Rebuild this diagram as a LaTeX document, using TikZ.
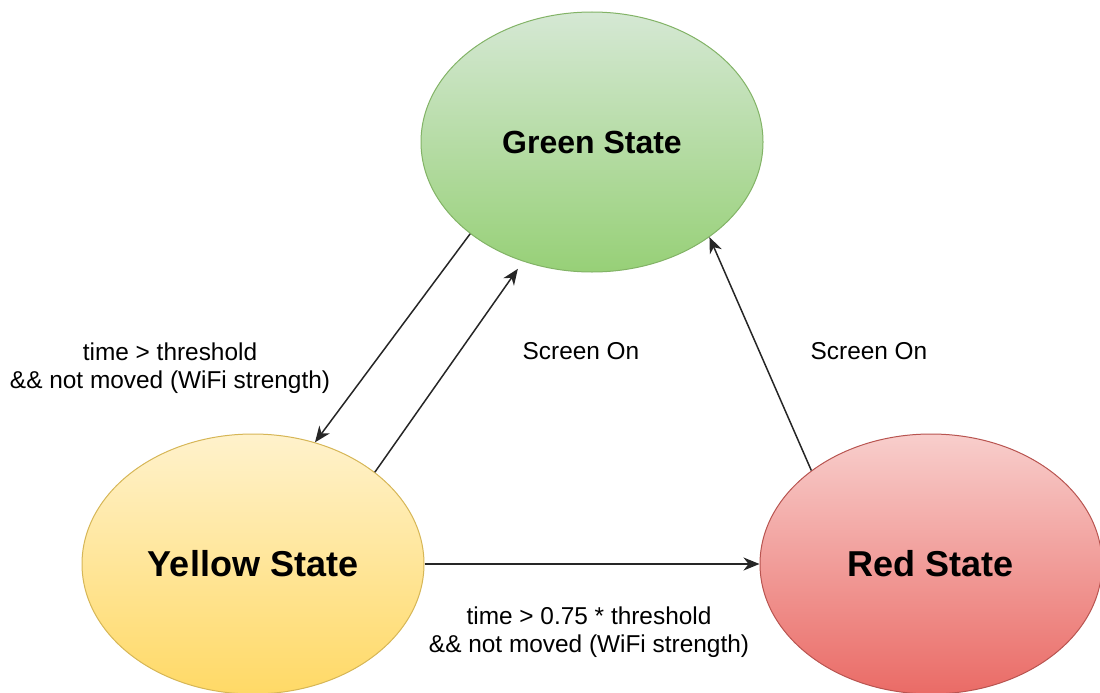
\documentclass[tikz,border=0pt]{standalone}
\usepackage{fontspec}
\setmainfont{Liberation Sans}
\usetikzlibrary{shapes.geometric,arrows.meta}

\definecolor{gTop}{HTML}{D5E8D4}
\definecolor{gBot}{HTML}{97D077}
\definecolor{gLine}{HTML}{82B366}
\definecolor{yTop}{HTML}{FFF2CC}
\definecolor{yBot}{HTML}{FFD966}
\definecolor{yLine}{HTML}{D6B656}
\definecolor{rTop}{HTML}{F8CECC}
\definecolor{rBot}{HTML}{EA6B66}
\definecolor{rLine}{HTML}{B85450}

\tikzset{
  statenode/.style={ellipse, inner sep=0pt, minimum width=342pt, minimum height=260pt,
    line width=1pt, font=\bfseries\fontsize{36}{40}\selectfont},
  greenstate/.style={statenode, draw=gLine, top color=gTop, bottom color=gBot,
    font=\bfseries\fontsize{32}{36}\selectfont},
  yellowstate/.style={statenode, draw=yLine, top color=yTop, bottom color=yBot},
  redstate/.style={statenode, draw=rLine, top color=rTop, bottom color=rBot},
  trans/.style={line width=1.5pt, draw=black!85,
    -{Stealth[length=16pt,width=13pt,inset=5pt]}},
  cond/.style={align=center, inner sep=0pt, font=\fontsize{24.4}{28}\selectfont}
}

\begin{document}
\begin{tikzpicture}[x=1pt,y=-1pt]
  \useasboundingbox (0,0) rectangle (1100,693);

  % states
  \node[greenstate]  (g) at (592,142) {Green State};
  \node[yellowstate] (y) at (253,564) {Yellow State};
  \node[redstate]    (r) at (931,564) {Red State};

  % transitions
  \draw[trans] (g.217.8) -- (y.63.3);
  \draw[trans, shorten >=9pt] (y.37.2) -- (g.240.6);
  \draw[trans] (r.142.4) -- (g.321.6);
  \draw[trans] (y.east) -- (r.west);

  % transition conditions
  \node[cond] (c1) at (170,368) {time > threshold\\\&\& not moved (WiFi strength)};
  \node[cond] (c2) at (581,351) {Screen On};
  \node[cond] (c3) at (869,351) {Screen On};
  \node[cond] (c4) at (589,632) {time > 0.75 * threshold\\\&\& not moved (WiFi strength)};
\end{tikzpicture}
\end{document}
